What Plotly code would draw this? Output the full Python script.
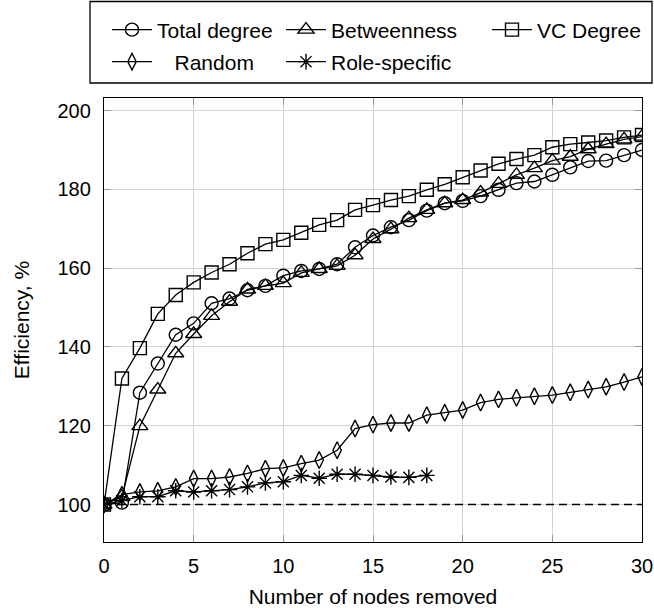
import plotly.graph_objects as go

# ---- data ----
nodes_removed = list(range(0, 31))
total_degree = [100, 100.5, 128.4, 135.8, 143.1, 146.0, 151.1, 152.3, 154.4, 155.5, 158.1, 159.3, 159.8, 161.0,
                165.3, 168.3, 170.4, 172.2, 174.6, 176.5, 177.1, 178.3, 179.9, 181.6, 182.0, 183.7, 185.6,
                187.2, 187.3, 188.7, 190.0]
betweenness = [100, 102.0, 119.9, 129.2, 138.4, 143.3, 147.9, 151.5, 154.6, 155.5, 156.2, 158.8, 159.8, 160.6,
               163.3, 167.4, 169.9, 172.7, 174.8, 176.5, 177.3, 179.2, 181.4, 183.7, 185.4, 187.3, 188.3,
               190.2, 191.5, 192.7, 193.4]
vc_degree = [100, 132.0, 139.7, 148.4, 153.2, 156.4, 158.9, 161.0, 163.8, 166.1, 167.2, 169.0, 171.0, 172.2,
             174.8, 176.0, 177.3, 178.3, 179.9, 181.3, 183.1, 184.8, 186.5, 187.7, 188.7, 190.7, 191.5,
             191.9, 192.4, 193.2, 193.8]
random_removal = [100, 102.5, 103.2, 103.5, 104.5, 106.6, 106.6, 107.0, 107.9, 109.1, 109.3, 110.4, 111.3, 113.8,
                  119.3, 120.3, 120.7, 120.7, 122.7, 123.3, 124.0, 125.9, 126.7, 127.1, 127.5, 127.8, 128.5,
                  129.2, 129.9, 131.1, 132.4]
role_nodes = list(range(0, 19))
role_specific = [100, 101.0, 102.0, 102.0, 103.5, 103.2, 103.5, 103.8, 104.5, 105.5, 105.8, 107.4, 106.7, 107.7,
                 107.7, 107.4, 107.0, 106.9, 107.4]
baseline = 100

x_ticks = [0, 5, 10, 15, 20, 25, 30]
y_ticks = [100, 120, 140, 160, 180, 200]

FONT = "Liberation Sans"
fig = go.Figure()


def add_series(x, y, name, symbol, size, legend, lw):
    fig.add_trace(go.Scatter(
        x=x, y=y, name=name, mode="lines+markers",
        line=dict(color="black", width=1.3),
        marker=dict(symbol=symbol, size=size, color="black", line=dict(color="black", width=1.4)),
        legend=legend, legendwidth=lw,
    ))


add_series(nodes_removed, total_degree, "Total degree", "circle-open", 13, "legend", 119)
add_series(nodes_removed, betweenness, "Betweenness", "triangle-up-open", 14, "legend", 151)
add_series(nodes_removed, vc_degree, "VC Degree", "square-open", 13, "legend", 100)
add_series(nodes_removed, random_removal, "\u00a0\u00a0\u00a0Random", "diamond-tall-open", 12, "legend2", 119)
add_series(role_nodes, role_specific, "Role-specific", "asterisk-open", 13, "legend2", 151)

fig.add_hline(y=baseline, line=dict(color="black", width=1.5, dash="8px,5px"), layer="above")

L, R, T, B = 104, 12, 98, 66
W, H = 654, 608
pw, ph = W - L - R, H - T - B


def px_x(p):
    return (p - L) / pw


def px_y(p):
    return 1 + (T - p) / ph


# legend frame
fig.add_shape(type="rect", xref="paper", yref="paper",
              x0=px_x(90), x1=px_x(652), y0=px_y(83), y1=px_y(1.5),
              line=dict(color="black", width=1.3), fillcolor="rgba(0,0,0,0)")

legend_common = dict(orientation="h", xanchor="left", yanchor="top", bgcolor="rgba(0,0,0,0)",
                     borderwidth=0, font=dict(family=FONT, size=21, color="black"),
                     itemsizing="trace", itemwidth=40, traceorder="normal")

axis_common = dict(showline=True, linecolor="black", linewidth=1.3, mirror="ticks",
                   ticks="inside", ticklen=7, tickcolor="#9a9a9a", tickwidth=1,
                   showgrid=True, gridcolor="#d4d4d4", gridwidth=1, zeroline=False,
                   tickfont=dict(family=FONT, size=20, color="black"))

fig.update_layout(
    width=W, height=H,
    margin=dict(l=L, r=R, t=T, b=B, autoexpand=False),
    paper_bgcolor="white", plot_bgcolor="white",
    font=dict(family=FONT, color="black"),
    showlegend=True,
    legend=dict(x=px_x(107), y=px_y(9.5), **legend_common),
    legend2=dict(x=px_x(107), y=px_y(41.5), **legend_common),
    xaxis=dict(range=[0, 30], tickvals=x_ticks, ticklabelstandoff=6,
               title=dict(text="Number of nodes removed", font=dict(family=FONT, size=21), standoff=14),
               **axis_common),
    yaxis=dict(range=[90.5, 203.2], tickvals=y_ticks, ticklabelstandoff=8,
               title=dict(text="Efficiency, %", font=dict(family=FONT, size=21), standoff=22),
               **axis_common),
)

fig.write_html("out.html")
